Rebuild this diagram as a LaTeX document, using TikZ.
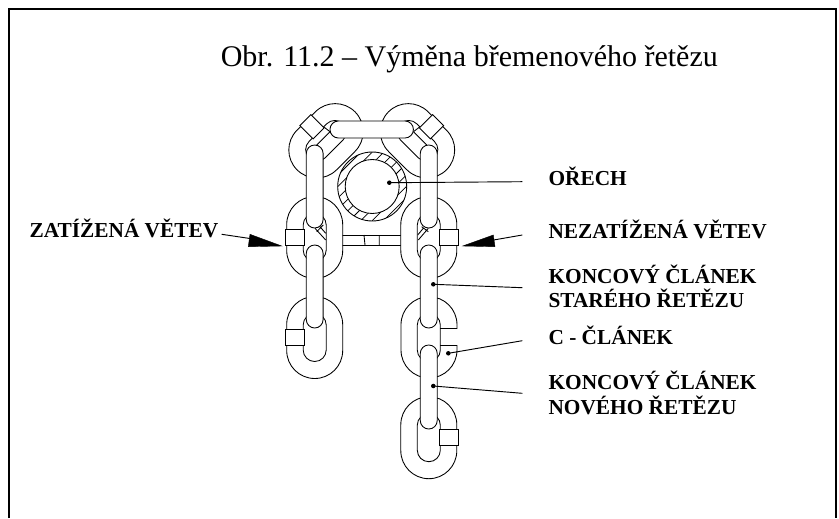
\documentclass[tikz,border=0pt]{standalone}
\usepackage{fontspec}
\setmainfont{Liberation Serif}
\usepackage{xcolor}
\usetikzlibrary{calc}
\usetikzlibrary{positioning}

\tikzset{
  linkline/.style={draw=black,line width=0.65pt,fill=white},
  leader/.style={draw=black,line width=0.7pt},
  wedge/.style={fill=black,draw=black,line width=0.3pt},
  dotmark/.style={circle,fill=black,inner sep=0pt,minimum size=3.4pt},
  lbl/.style={anchor=base west,inner sep=0pt,align=left,font=\fontsize{16}{18.4}\selectfont\bfseries},
}
% one chain link: centre x, centre y, rotation, weld side (-1 left, 1 right)
\newcommand{\chainlink}[4]{
  \begin{scope}[shift={(#1,#2)},rotate=#3]
    \draw [linkline,rounded corners=21pt] (-28,-41) rectangle (28,41);
    \draw [linkline,rounded corners=8.6pt] (-11.5,-24) rectangle (11.5,24);
    \draw [linkline] (#4*10.4,-7.8) rectangle (#4*29.2,7.8);
  \end{scope}
}
% one bar of a link seen from the side
\newcommand{\sidebar}[4]{
  \draw [linkline,rounded corners=6.3pt] (#1,#2) rectangle (#3,#4);
}

\begin{document}
\begin{tikzpicture}[x=0.75pt,y=0.75pt,yscale=-1]
  \useasboundingbox (0,0) rectangle (839,518);

  %Frame, open at the bottom
  \draw [line width=1.5pt] (9,518) -- (9,9.3) -- (836.2,9.3) -- (836.2,518);

  %Links over the sprocket
  \chainlink{326}{140.8}{45}{-1}
  \chainlink{417.5}{140.8}{-45}{1}
  \draw [linkline] (316.7,145) -- (330,131.7);
  \draw [linkline] (426.8,145) -- (413.5,131.7);
  \draw [linkline] (324.3,127.3) -- (330,131.7);
  \draw [linkline] (419.2,127.3) -- (413.5,131.7);

  %Sprocket ring with hatching
  \begin{scope}
    \clip (372.2,186.5) circle (34.5);
    \foreach \s in {513,524.4,535.8,547.2,558.6,570,581.4,592.8,604.2}
      \draw [line width=0.55pt] (\s-230,230) -- (\s-140,140);
  \end{scope}
  \draw [line width=0.65pt] (372.2,186.5) circle (34.5);
  \draw [line width=0.65pt,fill=white] (372.2,186.5) circle (27);

  %Crossbar between the two branches
  \draw [line width=0.65pt] (342,235) -- (401,235) (342,245) -- (401,245);
  \draw [line width=0.65pt] (364,235) -- (365,245) (379.3,235) -- (379.3,245);

  %Middle links
  \chainlink{314.7}{237.5}{0}{-1}
  \chainlink{428.8}{237.5}{0}{1}
  \draw [linkline] (315,228.3) -- (325.7,240) (320,226.7) -- (325.7,233.3) (316.7,231.7) -- (323.3,225);
  \draw [linkline] (428.3,228.3) -- (418.3,240) (423.3,228.3) -- (417.7,235) (421.7,226.7) -- (428.3,231.7);

  %Lower links
  \chainlink{314.7}{337.5}{0}{-1}
  \chainlink{428.8}{437.7}{0}{1}

  %C link, gap cut out of a plain link
  \draw [linkline,rounded corners=21pt] (401,296.7) rectangle (457,378);
  \draw [linkline,rounded corners=8.6pt] (417.3,313.5) rectangle (440.3,361.5);
  \fill [white] (440.9,328.8) rectangle (459,345.2);
  \draw [line width=0.65pt] (440.3,328.3) -- (457,328.3) (440.3,345.7) -- (457,345.7);

  %Bars seen from the side
  \sidebar{306.3}{145}{323.1}{228}
  \sidebar{306.3}{245}{323.1}{328}
  \sidebar{420.3}{145}{437.2}{228}
  \sidebar{420.3}{245}{437.2}{328}
  \sidebar{420.3}{345}{437.2}{429}
  \sidebar{330}{121}{413.4}{138}

  % Text Node
  \node [anchor=base west,inner sep=0pt,font=\fontsize{22.5}{27}\selectfont] (title) at (220.5,66.7) {Obr. 11.2 – Výměna břemenového řetězu};
  % Text Node
  \node [lbl] (lblzat) at (29.3,237) {ZATÍŽENÁ VĚTEV};
  % Text Node
  \node [lbl] (lblorech) at (548.3,185) {OŘECH};
  % Text Node
  \node [lbl] (lblnez) at (548.3,238) {NEZATÍŽENÁ VĚTEV};
  % Text Node
  \node [lbl] (lblstary) at (548.3,307.7) {KONCOVÝ ČLÁNEK\\STARÉHO ŘETĚZU};
  % Text Node
  \node [lbl] (lblc) at (548.3,344) {C - ČLÁNEK};
  % Text Node
  \node [lbl] (lblnovy) at (548.3,414) {KONCOVÝ ČLÁNEK\\NOVÉHO ŘETĚZU};

  %Leader dots and free ends
  \node [dotmark] (dotorech) at (389.3,182.7) {};
  \node [dotmark] (dotstary) at (433.3,284.3) {};
  \node [dotmark] (dotc) at (448.3,353.3) {};
  \node [dotmark] (dotnovy) at (433.3,386) {};
  \coordinate (endorech) at (522.3,181.7);
  \coordinate (endstary) at (522.3,287.7);
  \coordinate (endc) at (522.3,340.7);
  \coordinate (endnovy) at (522.3,393.3);
  \coordinate (startzat) at (221.7,234.3);
  \coordinate (endzat) at (250,238.5);
  \coordinate (startnez) at (522.3,235);
  \coordinate (endnez) at (493.6,240);

  \draw [leader] (dotorech.center) -- (endorech);
  \draw [leader] (dotstary.center) -- (endstary);
  \draw [leader] (dotc.center) -- (endc);
  \draw [leader] (dotnovy.center) -- (endnovy);
  \draw [leader] (startzat) -- (endzat);
  \draw [leader] (startnez) -- (endnez);

  %Black wedges
  \draw [wedge] (250,234.3) -- (281.7,246) -- (248.3,246.7) -- cycle;
  \draw [wedge] (493.3,235) -- (462.7,246) -- (495,246.7) -- cycle;
\end{tikzpicture}
\end{document}
